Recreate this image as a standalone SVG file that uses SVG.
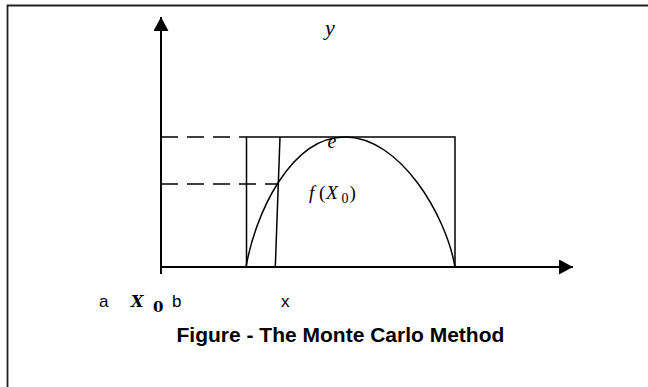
<svg xmlns="http://www.w3.org/2000/svg" width="648" height="387" viewBox="0 0 648 387">
<style>
.ln{fill:none;stroke:#000;stroke-width:1.5}
.ax{fill:none;stroke:#000;stroke-width:2}
.ds{fill:none;stroke:#000;stroke-width:1.5;stroke-dasharray:17 9}
.math{font-family:"Liberation Serif","DejaVu Serif",serif;font-style:italic;fill:#000}
.dj{font-family:"DejaVu Serif",serif}
.up{font-style:normal}
.lbl{font-family:"Liberation Sans",Arial,sans-serif;font-size:17px;fill:#000}
.ttl{font-family:"Liberation Sans",Arial,sans-serif;font-size:21px;font-weight:bold;fill:#000}
</style>
<defs>
<marker id="ah" markerWidth="14" markerHeight="15" refX="14" refY="7.5" orient="auto" markerUnits="userSpaceOnUse">
<path d="M0,0 L14,7.5 L0,15 Z" fill="#000"/>
</marker>
</defs>
<rect width="648" height="387" fill="#fff"/>
<g id="frame">
<path d="M7.5,387 L7.5,5.5 L648,5.5" fill="none" stroke="#222" stroke-width="1.8"/>
</g>
<g id="connectors">
<line class="ax" x1="161" y1="274" x2="161" y2="17" marker-end="url(#ah)"/>
<line class="ax" x1="161" y1="267" x2="573" y2="267" marker-end="url(#ah)"/>
<line class="ds" x1="161" y1="137" x2="246.5" y2="137"/>
<line class="ds" x1="161" y1="184" x2="278" y2="184"/>
<line class="ln" x1="280" y1="137" x2="275.3" y2="267"/>
</g>
<g id="box">
<rect class="ln" x="246.5" y="137" width="208.5" height="130"/>
</g>
<g id="curve">
<path class="ln" d="M246,267 C255,215 290,137 345,137 C400,137 446,215 455,267"/>
</g>
<g id="labels">
<text class="math" x="325" y="35" font-size="22">y</text>
<text class="math" x="327.5" y="148" font-size="20">e</text>
<text class="math" y="198.5" font-size="19"><tspan x="309">f</tspan><tspan class="up" x="319">(</tspan><tspan x="326" font-size="19.5">X</tspan><tspan class="up" x="341.5" y="203" font-size="14">0</tspan><tspan class="up" x="349.5" y="198.5">)</tspan></text>
<text class="lbl" x="99" y="307">a</text>
<text class="math dj" y="306.5" font-size="16" font-weight="bold"><tspan x="131">X</tspan><tspan class="up" x="153" y="311.5" font-size="15">0</tspan></text>
<text class="lbl" x="172" y="307">b</text>
<text class="lbl" x="281" y="307">x</text>
<text class="ttl" x="176.5" y="342">Figure - The Monte Carlo Method</text>
</g>
</svg>
